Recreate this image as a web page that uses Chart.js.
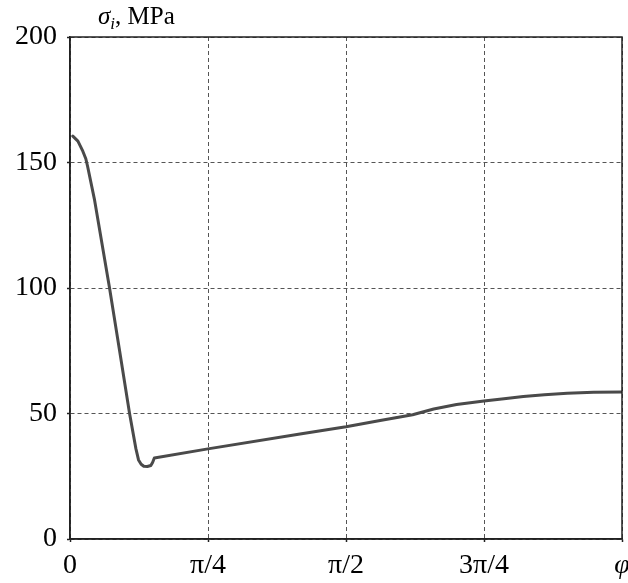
<!DOCTYPE html>
<html>
<head>
<meta charset="utf-8">
<script src="https://cdn.jsdelivr.net/npm/chart.js@4/dist/chart.umd.min.js"></script>
<style>
  html, body { margin: 0; padding: 0; background: #fff; }
  #wrap { width: 628px; height: 583px; }
</style>
</head>
<body>
<div id="wrap"><canvas id="chart" width="628" height="583"></canvas></div>
<script>
// angle phi (rad) and stress intensity sigma_i (MPa)
const phi = [0.016, 0.045, 0.073, 0.09, 0.10, 0.14, 0.225, 0.28, 0.339, 0.375, 0.39, 0.405,
             0.42, 0.44, 0.46, 0.47, 0.48, 0.785, 1.309, 1.571, 1.765, 1.95, 2.07, 2.2,
             2.356, 2.47, 2.58, 2.7, 2.83, 2.98, 3.1416];
const sigma = [160.5, 158.5, 154.5, 151.5, 148.5, 135, 100, 76, 50, 36, 31.5, 29.8,
               29, 28.9, 29.3, 30.5, 32.3, 35.9, 41.8, 44.7, 47.2, 49.5, 51.8, 53.6,
               55.0, 55.9, 56.8, 57.5, 58.1, 58.45, 58.6];

const xTicks = [0, Math.PI / 4, Math.PI / 2, 3 * Math.PI / 4, Math.PI];
const xTickLabels = ["0", "π/4", "π/2", "3π/4", "φ"];
const yTicks = [0, 50, 100, 150, 200];

const FONT = "'Liberation Serif', 'DejaVu Serif', serif";
const AXIS = "#222";
const GRID = "#555";

// frame around plot + axis caption
const framePlugin = {
  id: "frame",
  afterDraw(chart) {
    const { ctx, chartArea: a } = chart;
    ctx.save();
    ctx.strokeStyle = AXIS;
    ctx.lineWidth = 1.5;
    ctx.strokeRect(a.left, a.top, a.right - a.left, a.bottom - a.top);

    // σ_i, MPa
    ctx.fillStyle = "#000";
    ctx.textBaseline = "alphabetic";
    let x = 98, y = 24;
    ctx.font = "italic 25px " + FONT;
    ctx.fillText("σ", x, y);
    x += ctx.measureText("σ").width;
    ctx.font = "italic 17px " + FONT;
    ctx.fillText("i", x, y + 5);
    x += ctx.measureText("i").width;
    ctx.font = "25px " + FONT;
    ctx.fillText(", MPa", x, y);
    ctx.restore();
  }
};

const gridOpts = {
  color: GRID,
  lineWidth: 1,
  tickLength: 3,
  tickColor: AXIS,
  tickBorderDash: [],
  tickWidth: 1.5
};

new Chart(document.getElementById("chart"), {
  type: "line",
  data: {
    datasets: [{
      data: phi.map((p, i) => ({ x: p, y: sigma[i] })),
      borderColor: "#4a4a4a",
      borderWidth: 3,
      borderJoinStyle: "round",
      borderCapStyle: "round",
      pointRadius: 0,
      tension: 0,
      fill: false
    }]
  },
  options: {
    responsive: false,
    animation: false,
    layout: { padding: { top: 37, right: 6, left: 0, bottom: 0 } },
    plugins: { legend: { display: false }, tooltip: { enabled: false } },
    scales: {
      x: {
        type: "linear",
        min: 0,
        max: Math.PI,
        afterBuildTicks: s => { s.ticks = xTicks.map(v => ({ value: v })); },
        afterFit: s => { s.height = 44; s.paddingLeft = 0; s.paddingRight = 0; },
        ticks: {
          autoSkip: false,
          maxRotation: 0,
          padding: 7,
          color: "#000",
          font: c => ({ family: FONT, size: 28, style: c.index === 4 ? "italic" : "normal" }),
          callback: (v, i) => xTickLabels[i]
        },
        grid: gridOpts,
        border: { color: AXIS, width: 1.5, dash: [4, 3] }
      },
      y: {
        min: 0,
        max: 200,
        afterBuildTicks: s => { s.ticks = yTicks.map(v => ({ value: v })); },
        afterFit: s => { s.width = 70; },
        ticks: {
          padding: 10,
          color: "#000",
          font: { family: FONT, size: 28 }
        },
        grid: gridOpts,
        border: { color: AXIS, width: 1.5, dash: [4, 3] }
      }
    }
  },
  plugins: [framePlugin]
});
</script>
</body>
</html>
